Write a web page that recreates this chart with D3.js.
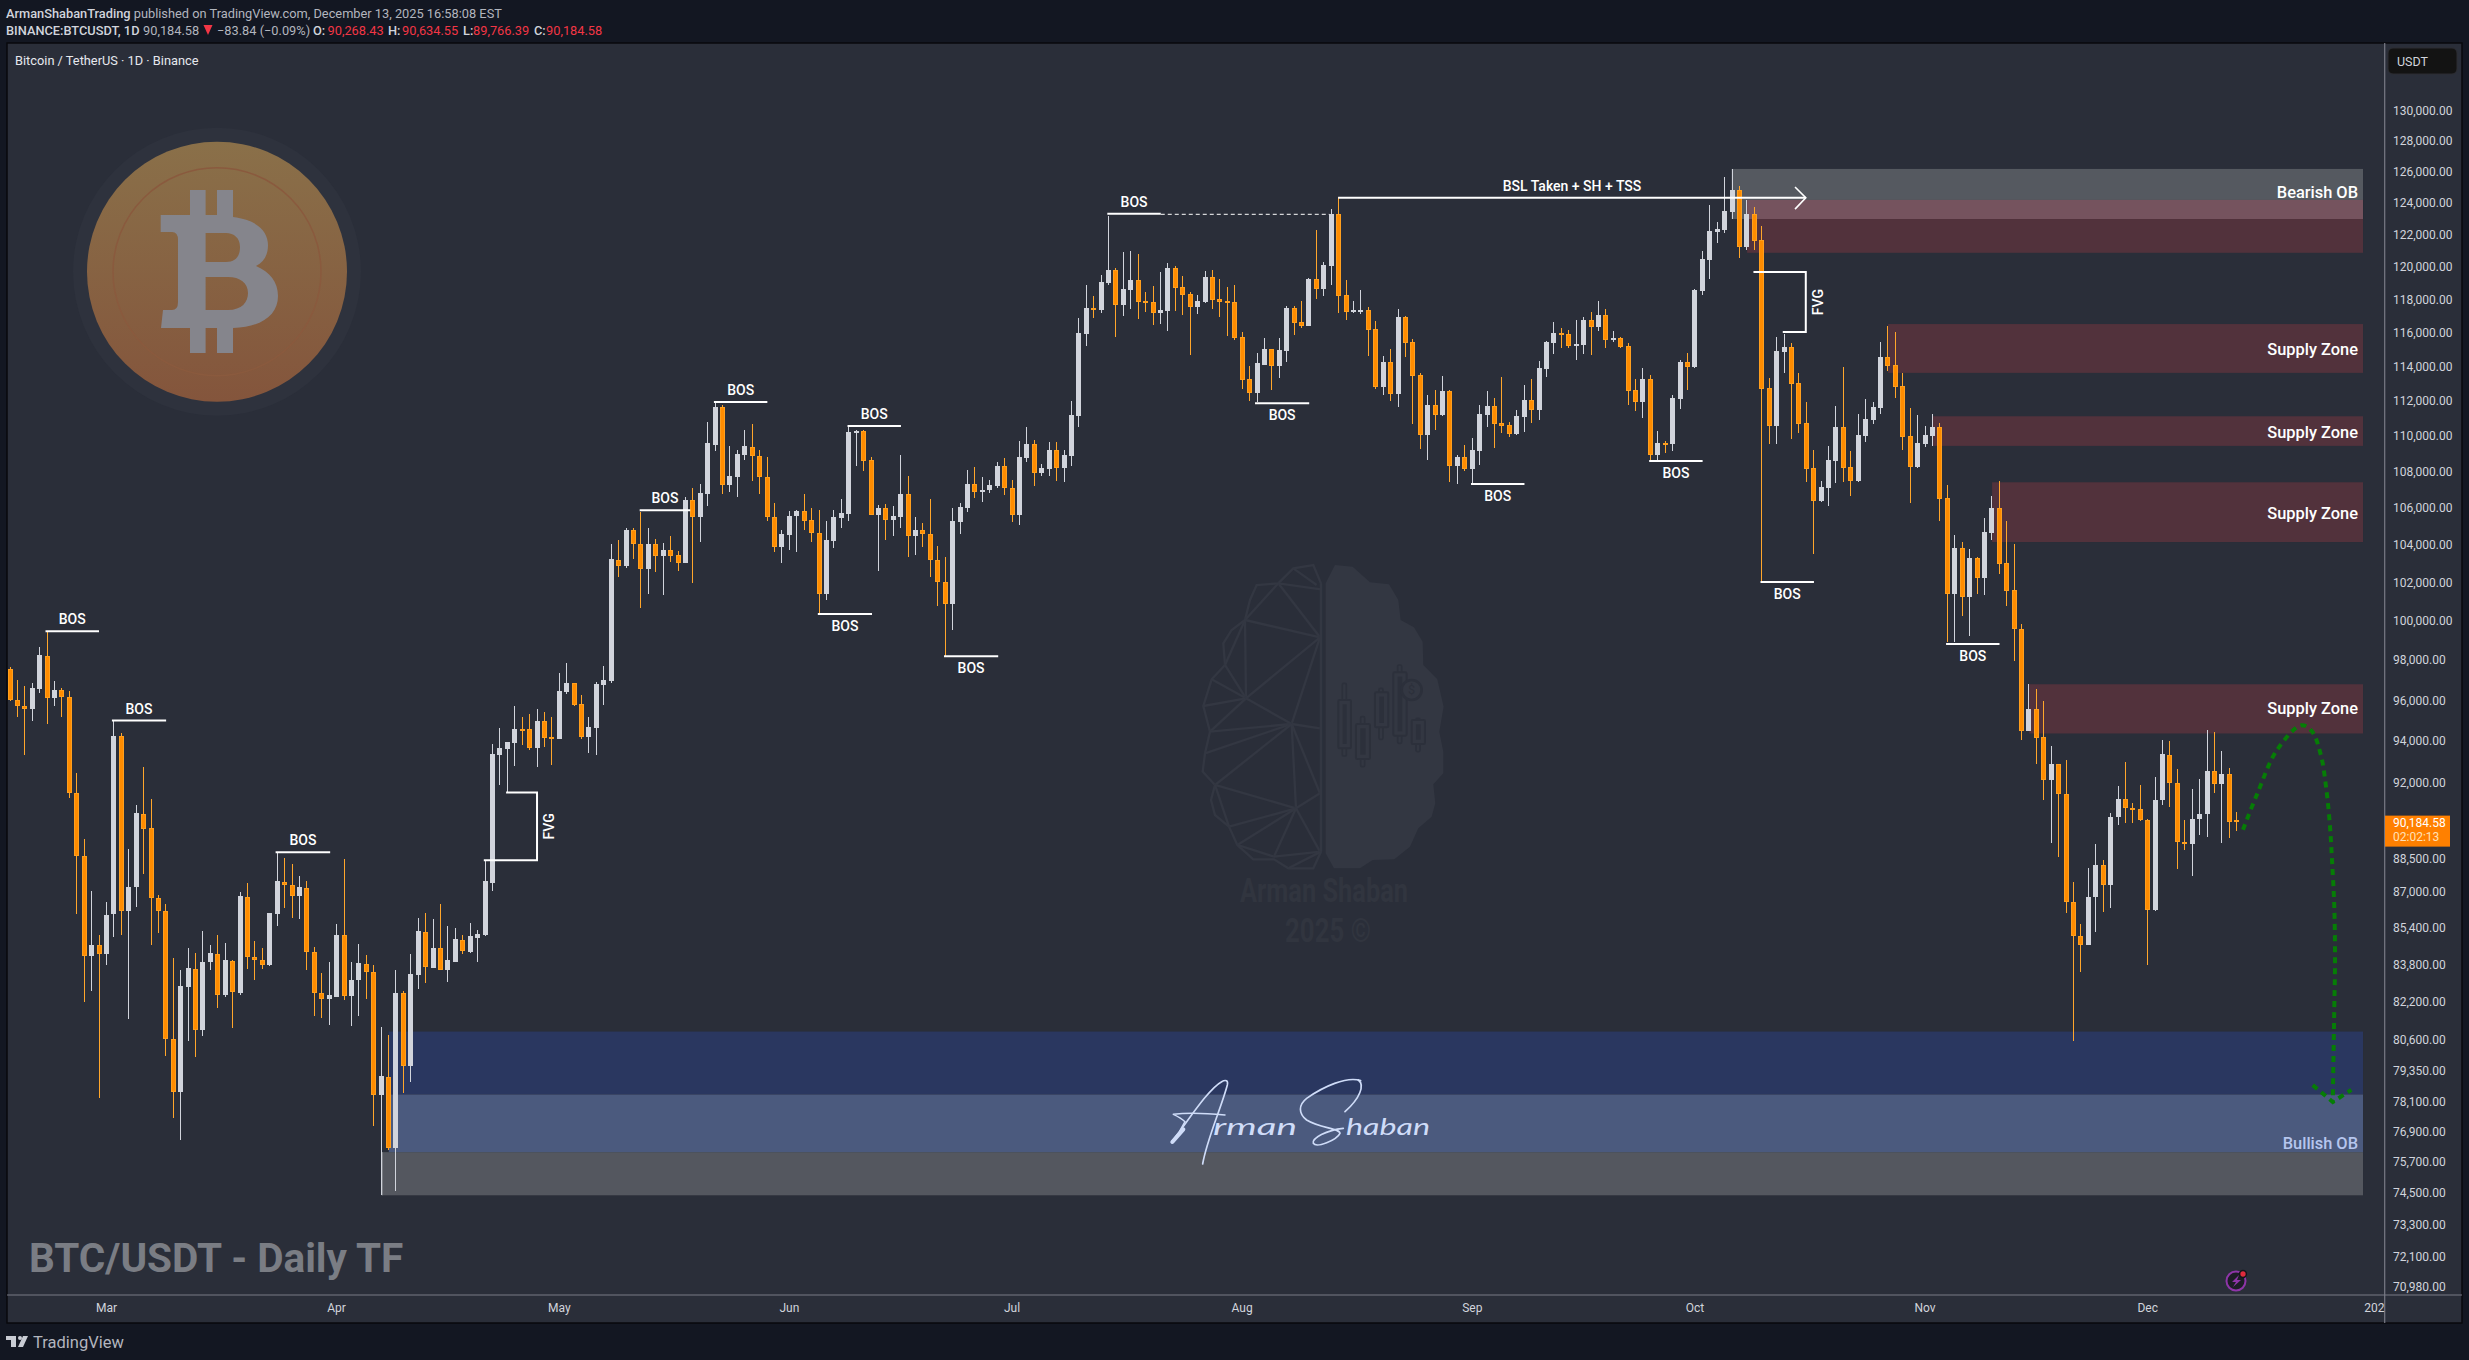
<!DOCTYPE html>
<html><head><meta charset="utf-8">
<script src="https://d3js.org/d3.v7.min.js"></script>
<style>html,body{margin:0;padding:0;background:#131722;overflow:hidden}svg{display:block}text{font-family:Roboto,sans-serif}</style>
</head><body><svg id="c" width="2469" height="1360"></svg>
<script>
// Daily BTC/USDT candles, 16 Feb 2025 to 13 Dec 2025.
const highs=[97640,96990,96690,96850,98650,99450,96940,96600,96440,92480,
89370,87000,85060,86510,94980,94390,88910,90950,92740,91230,
86830,86430,84060,83540,84490,84280,85230,84620,85060,84710,
83970,86960,87400,84790,84490,86060,88770,88500,88230,87680,
87450,84570,83440,83880,85540,88460,83920,84660,84190,83750,
81160,80790,83540,82670,84230,85840,86030,85760,86430,85450,
85400,85060,85620,85280,88420,93850,94630,93950,95700,95150,
95300,95560,95400,95150,97370,97850,96870,96250,95150,96890,
97690,104050,104260,104900,104920,105740,104920,104290,104110,104480,
103650,106590,107060,107280,110750,111900,111730,109430,109200,110330,
110650,109200,108810,106230,104810,105810,105850,106720,105960,105850,
105260,105850,106460,110490,110330,110330,108770,106120,106190,106070,
108900,107720,105480,105150,106460,103910,103320,105980,106230,108060,
108220,107670,107510,108520,108720,107510,109680,110470,109750,108400,
109630,109630,109170,111960,116860,118860,118190,119470,123160,119880,
120920,120960,120770,118430,118800,119660,120220,120010,119410,118430,
118250,119700,119780,119210,118740,118840,116000,114000,114790,115640,
115040,115660,117580,117580,117880,119270,122270,120280,123600,124390,
119170,117880,118550,117520,116680,114590,115000,117400,116980,115600,
113600,112320,112600,113420,112600,108900,109460,109860,111740,112540,
112140,113360,110760,111450,112900,113240,114300,115480,116620,116260,
116140,116740,116920,117220,117880,117400,116080,115720,115360,113240,
113880,113480,110250,109680,112320,114360,114770,118610,120960,123860,
122780,125630,126180,125080,124180,123730,122530,113300,115720,115900,
115360,113590,111910,109180,107450,109400,111680,113940,109120,111220,
112080,111910,115420,116380,116020,113590,111560,111160,110530,111220,
110700,107220,104500,104120,103750,103320,105420,106620,107450,105260,
104010,99820,96780,96570,95980,93780,92920,93100,87440,85540,
88080,89170,88440,90600,91870,93010,91070,91920,90320,92260,
94050,94020,92640,90260,91700,92200,94520,94430,93500,92690,
90634.55];
const lows=[95980,95170,93330,94980,96370,94840,95720,95170,91300,86000,
82180,82650,78230,83770,84980,85070,81470,86290,87780,84630,
85170,79930,77430,76550,80550,79890,80760,83550,81940,82390,
81100,82480,83600,83120,83600,83740,85460,86270,85830,85780,
83550,81590,81520,81220,82390,82270,81180,81590,82320,77100,
74430,76180,74560,78420,78890,82730,82990,83630,83540,83060,
83900,84250,84310,83880,85040,87000,91890,91560,92790,93800,
93580,92760,93700,92850,94090,96320,95700,94110,93450,93330,
95770,96850,102270,102760,103260,100660,101370,102550,101350,103090,
102590,103000,101960,104130,106070,109130,106750,106860,106570,108650,
107440,106730,105280,103610,103000,103700,103590,104810,104130,100350,
101070,103800,104920,105260,108280,108010,105590,102590,104240,104440,
104920,103320,103430,103850,102270,100790,98200,99540,104550,105740,
106500,106300,106790,107100,106680,105210,105030,108520,107170,107720,
107720,107440,107400,108280,110500,115200,116880,117180,118880,115740,
117000,117400,116820,117240,116440,116520,116080,117280,117040,114640,
117100,117740,117400,116920,115780,115520,112660,111990,111930,114060,
112600,113300,114240,115840,116280,116360,118000,118190,118860,117160,
116740,117140,117100,114590,112660,112320,111970,111620,114530,110650,
109230,108620,110300,111140,107400,107290,108010,107290,108340,110480,
109290,110140,109910,110060,110190,110700,110880,113360,114710,115060,
115060,114360,114710,114650,116080,115060,115420,115100,111740,111390,
110990,108560,108560,109010,109120,111510,112600,113920,118250,119230,
121460,122090,122970,120540,121020,121020,102020,109510,109510,113590,
109800,110140,107390,103480,106290,106070,107340,107390,106620,107430,
109630,110650,111220,113710,112140,109180,106240,108200,109340,109400,
105260,98900,98900,100230,99200,101370,101320,104230,102420,100750,
97930,94040,94470,92920,91180,89200,88540,86030,80560,83470,
84620,85220,86080,86250,90020,90100,90100,90230,83760,86110,
90960,90860,88000,88880,87690,89560,89470,91530,89200,89430,
89766.39];
const opens=[97530,96030,95730,95580,96560,98230,96100,96480,96180,91500,
88620,84150,84650,84250,86000,94230,86130,87200,90560,89870,
86720,86140,80660,78480,82820,83610,81010,83880,84260,82480,
83950,82590,86760,84120,84000,83770,86000,87440,87310,86800,
87160,84340,82580,82320,82420,85090,82440,83120,83830,83480,
78350,79080,76240,82560,79520,83320,85210,83660,84520,83540,
83920,84870,84340,84960,85060,87400,93320,93610,93900,94580,
94580,93660,94960,94180,94110,96390,96850,95790,94180,94630,
96760,96950,103200,102850,104770,104050,102700,104050,103390,103700,
103430,103020,106390,105500,106750,109480,111610,107220,107690,108900,
109380,108880,107690,105500,103850,104500,105520,105810,105300,104640,
101370,104180,105430,105630,110210,110260,108610,105610,105980,105340,
105480,106720,104440,104790,104590,103200,102030,100880,105230,105960,
107280,106860,106970,107170,108280,107100,105610,108720,109500,107900,
108130,109170,108170,108830,111110,115920,117460,117340,118960,119760,
117660,118550,119170,117860,117800,117160,117280,119910,118740,118310,
117520,117820,119350,118000,117880,117820,115720,113240,112430,114080,
115000,114000,114880,117460,116620,116380,119230,118610,120030,123290,
118250,117280,117260,117340,116200,112780,114240,112370,116920,115420,
113480,110020,111740,111160,112540,108280,108780,108120,109120,111160,
111680,110700,110590,110080,111050,112020,111450,113830,115360,115960,
115900,115180,115240,116740,116320,117040,115600,115660,115180,112600,
111920,113240,108900,109570,109510,112080,114240,113940,118490,120400,
122150,122270,123410,124800,121210,123290,121640,112720,110530,114830,
115120,113010,110690,108170,106340,107060,108560,110480,108220,107450,
109970,110880,111560,114540,114060,112830,109970,108220,109510,109970,
110480,106510,101370,103800,101220,103270,102210,104610,105960,103000,
101580,99600,94490,95550,94180,92130,92880,91480,86540,85040,
84640,86740,88190,87280,90400,91240,90840,90750,90260,86170,
91200,93340,92000,89240,89150,90300,90530,92570,91940,92430,
90268.43];
const closes=[96020,95720,95580,96580,98250,96120,96490,96160,91500,88600,
84150,84650,84250,85970,94230,86130,87210,90580,89850,86720,
86130,80640,78480,82850,83630,81010,83920,84280,82480,83970,
82610,86780,84120,83980,83780,86030,87450,87290,86800,87180,
84320,82580,82320,82470,85090,82440,83140,83850,83460,78350,
79100,76240,82560,79520,83370,85230,83680,84520,83550,83970,
84880,84360,85010,85100,87450,93370,93660,93940,94580,94540,
93660,94960,94160,94110,96440,96850,95770,94180,94670,96800,
96990,103220,102870,104770,104050,102700,104050,103390,103700,103390,
103020,106420,105500,106790,109570,111610,107240,107720,108950,109410,
108860,107690,105500,103870,104550,105560,105810,105280,104640,101390,
104240,105480,105700,110190,110260,108580,105610,105980,105340,105520,
106720,104460,104810,104570,103200,102030,100880,105260,106010,107280,
106860,106990,107220,108280,107080,105610,108790,109520,107920,108170,
109170,108170,108900,111170,115960,117460,117340,119040,119780,117660,
118610,119170,117840,117760,117180,117340,119910,118700,118250,117520,
117880,119350,117940,117820,117760,115680,113190,112430,114180,115000,
114000,114940,117460,116560,116380,119230,118610,120090,123290,118190,
117220,117340,117340,116140,112780,114240,112370,116920,115360,113420,
110020,111740,111160,112540,108280,108780,108120,109180,111220,111680,
110650,110540,110080,111110,112020,111450,113880,115420,115960,115840,
115180,115300,116740,116320,117040,115540,115660,115120,112540,111920,
113240,108900,109570,109510,112140,114240,113940,118550,120460,122210,
122340,123480,124800,121210,123290,121580,112660,110530,114890,115120,
112950,110650,108110,106340,107120,108620,110480,108170,107450,110020,
110930,111620,114540,114000,112780,109910,108220,109570,110020,110480,
106450,101370,103800,101220,103270,102210,104660,105960,102950,101530,
99560,94490,95550,94160,92130,92880,91480,86520,85020,84640,
86760,88210,87280,90420,91240,90820,90730,90280,86170,91200,
93360,92000,89260,89150,90300,90560,92570,91940,92440,90170,
90184.58];
const priceTicks=[130000,128000,126000,124000,122000,120000,118000,116000,114000,112000,110000,108000,106000,104000,102000,100000,98000,96000,94000,92000,88500,87000,85400,83800,82200,80600,79350,78100,76900,75700,74500,73300,72100,70980];
const timeTicks=[["2025-03-01","Mar"],["2025-04-01","Apr"],["2025-05-01","May"],["2025-06-01","Jun"],["2025-07-01","Jul"],["2025-08-01","Aug"],["2025-09-01","Sep"],["2025-10-01","Oct"],["2025-11-01","Nov"],["2025-12-01","Dec"],["2026-01-01","2026"]];
// Drawings: candle-index from/to and prices.
const zones=[
 {from:232,top:126180,bot:122970,fill:"#555960"},
 {from:234.1,top:124180,bot:120850,fill:"#52323c"},
 {from:253.1,top:116500,bot:113610,fill:"#52323c"},
 {from:259.1,top:111100,bot:109420,fill:"#52323c"},
 {from:267.1,top:107390,bot:104140,fill:"#52323c"},
 {from:272.1,top:96790,bot:94370,fill:"#52323c"},
 {from:50.2,top:76080,bot:74410,fill:"#54575f"},
 {from:51.1,top:80950,bot:78370,fill:"#2a3760"},
 {from:51.1,top:78370,bot:76080,fill:"#4b5a7e"},
 {from:234.1,top:124180,bot:122970,fill:"#75535e"}];
const zoneEnd=317.07;
const zoneLabels=[["Bearish OB",124660,"#ffffff"],["Supply Zone",115000,"#ffffff"],["Supply Zone",110200,"#ffffff"],["Supply Zone",105700,"#ffffff"],["Supply Zone",95570,"#ffffff"],["Bullish OB",76400,"#b6c6ee"]];
const bos=[
 [4.85,12.06,99470,-1],[13.8,21.1,95000,-1],[35.85,43.2,88780,-1],[84.9,91.7,105850,-1],
 [94.9,102.1,111920,-1],[112.9,120.1,110540,-1],[108.9,116.2,100350,1],[125.9,133.2,98200,1],
 [147.9,155.1,123300,-1],[167.8,175.1,111850,1],[196.9,204.1,107300,1],[220.9,228.1,108570,1],
 [235.9,243.1,102020,1],[260.9,268.1,98810,1]];
const fvgs=[{topFrom:66.9,botFrom:63.9,to:71.07,top:91550,bot:88410},{topFrom:234.95,botFrom:238.9,to:242,top:119660,bot:116020}];
const forecast=[[300.9,89810],[302.8,91470],[305.5,93580],[308.8,94770],[310.2,94470],[311.4,93320],[312.1,91790],[312.6,90070],[312.9,88380],[313.2,86320],[313.3,83900],[313.2,81940],[313.1,80030],[313,78070]];
const forecastHead=[[310.3,78750],[313,78070],[315.5,78560]];

const DAY=864e5, start=Date.UTC(2025,1,16);
const x=d3.scaleUtc().domain([new Date(start),new Date(Date.UTC(2025,11,13))]).range([9.5,2236.3]);
const xAt=i=>x(new Date(start+i*DAY));
const y=d3.scaleLog().domain([126000,70980]).range([171.7,1287]);
const svg=d3.select("#c");
const WHITE="#d1d4dc",ORANGE="#ff8c00",WICKO="#ffa62b";

svg.append("rect").attr("width",2469).attr("height",1360).attr("fill","#131722");
svg.append("rect").attr("x",7).attr("y",43).attr("width",2455).attr("height",1280).attr("fill","#2a2e39").attr("stroke","#08090d").attr("stroke-width",1.5);

// Coin
const defs=svg.append("defs");
const gr=defs.append("linearGradient").attr("id","coin").attr("x1",0).attr("y1",0).attr("x2",0).attr("y2",1);
gr.append("stop").attr("offset",0).attr("stop-color","#8a7049");
gr.append("stop").attr("offset",1).attr("stop-color","#84553c");
const coin=svg.append("g");
coin.append("circle").attr("cx",217).attr("cy",271.7).attr("r",144).attr("fill","#2e323d");
coin.append("circle").attr("cx",217).attr("cy",271.7).attr("r",130).attr("fill","url(#coin)");
coin.append("circle").attr("cx",217).attr("cy",271.7).attr("r",104).attr("fill","none").attr("stroke","#8a5a3e").attr("stroke-width",1.5);
coin.append("path").attr("fill-rule","evenodd").attr("fill","#85858c").attr("d","M190,190H205.6V215H217V190H233V217C258,220 268,232 268,245C268,255 264,262 256,266C270,272 278,282 278,296C278,315 262,327 233,328V353H217V328H205.6V353H190V328L161,328L163,310H172Q178,310 178,302V240Q178,232 172,232H160.7V215H190Z M205.6,233V262H226C236,262 240,256 240,247C240,238 234,233 226,233Z M205.6,277V310H228C242,310 248,302 248,293C248,283 240,277 228,277Z");

// Watermark
const wm=svg.append("g").attr("transform","translate(1150,550) scale(0.3333)");
const brainR=[[555,45],[608,50],[660,97],[717,103],[745,150],[752,210],[792,232],[818,275],[820,345],[862,388],[881,470],[868,545],[880,605],[880,670],[850,703],[856,760],[845,800],[805,835],[780,890],[733,928],[668,930],[630,955],[552,955],[527,910],[527,100]];
const brainOuter=[[513,100],[490,45],[430,55],[385,100],[320,105],[300,150],[285,210],[245,240],[220,280],[225,345],[185,388],[160,468],[180,545],[165,610],[158,665],[195,705],[183,750],[195,795],[237,830],[262,885],[310,928],[372,928],[415,955],[490,955],[513,905]];
const brainEdges=[[285,210,385,100],[385,100,510,262],[385,100,513,118],[285,210,510,262],[285,210,288,445],[225,345,285,210],[225,345,288,445],[185,388,288,445],[160,468,288,445],[180,545,288,445],[288,445,510,262],[288,445,425,522],[425,522,510,262],[425,522,510,535],[180,545,425,522],[165,610,425,522],[195,705,425,522],[425,522,510,730],[425,522,438,775],[195,705,438,775],[438,775,510,730],[237,830,438,775],[262,885,438,775],[372,920,438,775],[438,775,510,905],[262,885,372,920],[372,920,513,905],[415,955,513,905],[195,705,237,830],[430,55,500,105],[513,100,513,905]];
const WM="#333742",WMD="#2c303b";
wm.append("polygon").attr("points",brainR.join(" ")).attr("fill",WM);
wm.append("polygon").attr("points",brainOuter.join(" ")).attr("fill","none").attr("stroke",WM).attr("stroke-width",7);
wm.selectAll("line").data(brainEdges).join("line").attr("x1",d=>d[0]).attr("y1",d=>d[1]).attr("x2",d=>d[2]).attr("y2",d=>d[3]).attr("stroke",WM).attr("stroke-width",7);
[[565,450,38,145,583,400,618],[618,522,42,105,638,500,650],[675,427,40,105,693,415,568],[730,367,40,190,749,345,580],[785,510,40,72,804,505,605]].forEach(c=>{
 wm.append("rect").attr("x",c[4]-6).attr("y",c[5]).attr("width",12).attr("height",c[6]-c[5]).attr("rx",4).attr("fill",WM).attr("stroke",WMD).attr("stroke-width",5);
 wm.append("rect").attr("x",c[0]).attr("y",c[1]).attr("width",c[2]).attr("height",c[3]).attr("rx",4).attr("fill",WM).attr("stroke",WMD).attr("stroke-width",6);
 wm.append("rect").attr("x",c[0]+13).attr("y",c[1]+13).attr("width",c[2]-26).attr("height",c[3]-26).attr("fill",WMD);
});
wm.append("circle").attr("cx",785).attr("cy",420).attr("r",30).attr("fill",WM).attr("stroke",WMD).attr("stroke-width",8);
wm.append("text").attr("x",785).attr("y",420).attr("text-anchor","middle").attr("dominant-baseline","central").attr("font-size",38).attr("fill",WMD).text("$");
svg.append("text").attr("x",1324).attr("y",890).attr("text-anchor","middle").attr("dominant-baseline","central").attr("font-size",33).attr("font-weight",700).attr("fill","#31353f").attr("textLength",168).attr("lengthAdjust","spacingAndGlyphs").style("font-family","'Liberation Sans Narrow',Roboto,sans-serif").text("Arman Shaban");
svg.append("text").attr("x",1328).attr("y",930).attr("text-anchor","middle").attr("dominant-baseline","central").attr("font-size",33).attr("font-weight",700).attr("fill","#31353f").attr("textLength",86).attr("lengthAdjust","spacingAndGlyphs").style("font-family","'Liberation Sans Narrow',Roboto,sans-serif").text("2025 ©");

// Zones
svg.append("g").selectAll("rect").data(zones).join("rect")
 .attr("x",d=>xAt(d.from)).attr("width",d=>xAt(zoneEnd)-xAt(d.from))
 .attr("y",d=>y(d.top)).attr("height",d=>y(d.bot)-y(d.top)).attr("fill",d=>d.fill);
svg.append("line").attr("x1",xAt(50.2)).attr("x2",xAt(50.2)).attr("y1",y(76080)).attr("y2",y(74410)).attr("stroke","#9a9ca2");

// Signature
const sig=svg.append("g").attr("transform","translate(1150,1060) scale(0.3333)").attr("fill","none").attr("stroke","#cfdcf8").attr("stroke-linecap","round");
sig.append("path").attr("stroke-width",5).attr("d","M65,245C100,205 170,90 215,65C228,58 235,62 232,75C215,140 170,240 158,312");
sig.append("path").attr("stroke-width",12).attr("d","M67,246L100,208");
sig.append("path").attr("stroke-width",4.5).attr("d","M70,163C110,158 150,158 225,165M70,163C85,170 100,180 105,185L90,212");
sig.append("path").attr("stroke-width",5).attr("d","M632,62C590,48 520,80 470,115C445,135 445,160 470,180C510,205 570,205 570,220C560,240 500,265 490,250C485,235 530,210 580,205");
sig.append("path").attr("stroke-width",5).attr("d","M625,60C645,75 630,115 585,155");
svg.append("text").attr("x",1213).attr("y",1135).attr("font-size",23).attr("font-style","italic").attr("fill","#cfdcf8").attr("textLength",84).attr("lengthAdjust","spacingAndGlyphs").style("font-family","Lato,sans-serif").text("rman");
svg.append("text").attr("x",1346).attr("y",1135).attr("font-size",23).attr("font-style","italic").attr("fill","#cfdcf8").attr("textLength",84).attr("lengthAdjust","spacingAndGlyphs").style("font-family","Lato,sans-serif").text("haban");

// Candles
const cg=svg.append("g");
const candles=cg.selectAll("g").data(d3.range(highs.length)).join("g");
const cx=i=>Math.round(x(d3.utcDay.offset(new Date(start),i)));
candles.append("rect").attr("x",cx).attr("width",1)
 .attr("y",i=>Math.round(y(highs[i]))).attr("height",i=>Math.max(1,Math.round(y(lows[i]))-Math.round(y(highs[i]))))
 .attr("fill",i=>closes[i]>=opens[i]?WHITE:WICKO);
candles.append("rect").attr("x",i=>cx(i)-2).attr("width",5)
 .attr("y",i=>Math.round(y(Math.max(opens[i],closes[i])))).attr("height",i=>Math.max(2,Math.round(y(Math.min(opens[i],closes[i])))-Math.round(y(Math.max(opens[i],closes[i])))))
 .attr("fill",i=>closes[i]>=opens[i]?WHITE:ORANGE);
candles.filter(i=>closes[i]<opens[i]).append("rect").attr("x",i=>cx(i)-1.5).attr("width",4)
 .attr("y",i=>Math.round(y(opens[i]))+.5).attr("height",i=>Math.max(1,Math.round(y(closes[i]))-Math.round(y(opens[i]))-1))
 .attr("fill","none").attr("stroke","#ffa62b").attr("stroke-width",1).attr("opacity",.7);

// Annotations
const ANN="#ffffff";
const ag=svg.append("g");
function lbl(px,py,t,size,w,fill){return ag.append("text").attr("x",px).attr("y",py).attr("text-anchor","middle").attr("dominant-baseline","central").attr("font-size",size).attr("font-weight",w).attr("fill",fill||"#fff").text(t);}
bos.forEach(b=>{
 ag.append("line").attr("x1",xAt(b[0])).attr("x2",xAt(b[1])).attr("y1",y(b[2])).attr("y2",y(b[2])).attr("stroke",ANN).attr("stroke-width",2);
 lbl((xAt(b[0])+xAt(b[1]))/2,y(b[2])+b[3]*12,"BOS",14,500);
});
ag.append("line").attr("x1",xAt(155.1)).attr("x2",xAt(177.8)).attr("y1",y(123300)+.5).attr("y2",y(123300)+.5).attr("stroke",ANN).attr("stroke-dasharray","4 3");
ag.append("line").attr("x1",xAt(179)).attr("x2",xAt(242)).attr("y1",y(124320)).attr("y2",y(124320)).attr("stroke",ANN).attr("stroke-width",2);
ag.append("path").attr("d",d3.line().x(d=>xAt(d[0])).y(d=>y(d[1]))([[240.55,125010],[242,124320],[240.55,123600]])).attr("fill","none").attr("stroke",ANN).attr("stroke-width",1.6);
lbl(1572,186,"BSL Taken + SH + TSS",14,500);
fvgs.forEach(f=>{
 ag.append("path").attr("d",`M${xAt(f.topFrom)},${y(f.top)}H${xAt(f.to)}V${y(f.bot)}H${xAt(f.botFrom)}`).attr("fill","none").attr("stroke",ANN).attr("stroke-width",2);
 const lx=xAt(f.to)+12,ly=(y(f.top)+y(f.bot))/2;
 lbl(lx,ly,"FVG",14,500).attr("transform",`rotate(-90 ${lx} ${ly})`);
});
zoneLabels.forEach(z=>{
 ag.append("text").attr("x",2358).attr("y",y(z[1])).attr("text-anchor","end").attr("dominant-baseline","central").attr("font-size",16.4).attr("font-weight",500).attr("fill",z[2]).text(z[0]);
});
// Forecast path
const lineF=d3.line().x(d=>xAt(d[0])).y(d=>y(d[1]));
const GREEN="#067d06";
ag.append("path").attr("d",lineF.curve(d3.curveCatmullRom)(forecast)).attr("fill","none").attr("stroke",GREEN).attr("stroke-width",4).attr("stroke-dasharray","6 5");
ag.append("path").attr("d",d3.line().x(d=>xAt(d[0])).y(d=>y(d[1]))(forecastHead)).attr("fill","none").attr("stroke",GREEN).attr("stroke-width",4).attr("stroke-dasharray","6 5");

// Axes
const R=2384.7;
const axG=svg.append("g").attr("transform",`translate(${R},0)`).call(d3.axisRight(y).tickValues(priceTicks).tickSize(0).tickPadding(8.3).tickFormat(d3.format(",.2f")));
axG.select(".domain").remove();
axG.selectAll("text").attr("font-size",12).attr("fill","#d1d4dc").style("font-family","Roboto,sans-serif");
svg.append("line").attr("x1",R).attr("x2",R).attr("y1",43).attr("y2",1323).attr("stroke","#787b86").attr("stroke-width",1.2);
svg.append("line").attr("x1",7).attr("x2",2462).attr("y1",1295).attr("y2",1295).attr("stroke","#787b86").attr("stroke-width",1.2);
defs.append("clipPath").attr("id","tc").append("rect").attr("x",7).attr("y",1296).attr("width",R-7).attr("height",27);
const tl=new Map(timeTicks.map(d=>[+new Date(d[0]+"T00:00:00Z"),d[1]]));
const axT=svg.append("g").attr("clip-path","url(#tc)").append("g").attr("transform","translate(0,1295)").call(d3.axisBottom(x).tickValues(timeTicks.map(d=>new Date(d[0]+"T00:00:00Z"))).tickSize(0).tickPadding(8).tickFormat(d=>tl.get(+d)));
axT.select(".domain").remove();
axT.selectAll("text").attr("font-size",12).attr("fill","#d1d4dc").style("font-family","Roboto,sans-serif");

// USDT box and price tag
svg.append("rect").attr("x",2388).attr("y",48).attr("width",69).attr("height",26).attr("rx",5).attr("fill","#131313").attr("stroke","#2c2d32");
svg.append("text").attr("x",2397).attr("y",61.5).attr("dominant-baseline","central").attr("font-size",12.5).attr("fill","#d1d4dc").text("USDT");
svg.append("rect").attr("x",2385).attr("y",y(closes[300])-6).attr("width",65).attr("height",31).attr("fill","#ff8000");
svg.append("text").attr("x",2393).attr("y",823).attr("dominant-baseline","central").attr("font-size",12).attr("fill","#fff").text(d3.format(",.2f")(closes[300]));
svg.append("text").attr("x",2393).attr("y",837).attr("dominant-baseline","central").attr("font-size",12).attr("fill","#ffe0b8").text("02:02:13");

// Titles
svg.append("text").attr("x",15).attr("y",60.7).attr("dominant-baseline","central").attr("font-size",12.8).attr("font-weight",400).attr("fill","#e6e8ee").text("Bitcoin / TetherUS · 1D · Binance");
svg.append("text").attr("x",29).attr("y",1258).attr("dominant-baseline","central").attr("font-size",40.5).attr("font-weight",700).attr("fill","#7a7d84").text("BTC/USDT - Daily TF");

// Header
const h1=svg.append("text").attr("x",6).attr("y",12.5).attr("dominant-baseline","central").attr("font-size",12.8);
h1.append("tspan").attr("font-weight",500).attr("fill","#d1d4dc").text("ArmanShabanTrading");
h1.append("tspan").attr("fill","#b2b5be").text(" published on TradingView.com, December 13, 2025 16:58:08 EST");
const h2=svg.append("text").attr("y",29.5).attr("dominant-baseline","central").attr("font-size",12.8);
[[6,"BINANCE:BTCUSDT, 1D",500,"#d1d4dc"],[143,"90,184.58",400,"#b2b5be"],[217,"−83.84 (−0.09%)",400,"#b2b5be"],[313,"O:",500,"#d1d4dc"],[327.5,"90,268.43",400,"#f23645"],[388,"H:",500,"#d1d4dc"],[402,"90,634.55",400,"#f23645"],[463,"L:",500,"#d1d4dc"],[473,"89,766.39",400,"#f23645"],[534,"C:",500,"#d1d4dc"],[546,"90,184.58",400,"#f23645"]].forEach(d=>h2.append("tspan").attr("x",d[0]).attr("font-weight",d[2]).attr("fill",d[3]).text(d[1]));
svg.append("path").attr("d","M203.5,25H212.5L208,35Z").attr("fill","#f23645");

// Icon
svg.append("circle").attr("cx",2236).attr("cy",1281).attr("r",9.5).attr("fill","#1c1d25").attr("stroke","#8e35a8").attr("stroke-width",2);
svg.append("path").attr("d","M2239,1275L2232,1282H2236L2233,1287L2241,1280H2237Z").attr("fill","#8e35a8");
svg.append("circle").attr("cx",2243).attr("cy",1274).attr("r",3.4).attr("fill","#e02b3c").attr("stroke","#14151a").attr("stroke-width",1.5);

// TradingView footer
const lg=svg.append("g").attr("fill","#c9ccd4");
lg.append("path").attr("d","M6,1336H16V1347H11V1340H6Z");
lg.append("circle").attr("cx",20).attr("cy",1338).attr("r",2);
lg.append("path").attr("d","M23,1336H28L23,1347H18Z");
svg.append("text").attr("x",33).attr("y",1342).attr("dominant-baseline","central").attr("font-size",16.5).attr("fill","#b2b5be").text("TradingView");
</script></body></html>
